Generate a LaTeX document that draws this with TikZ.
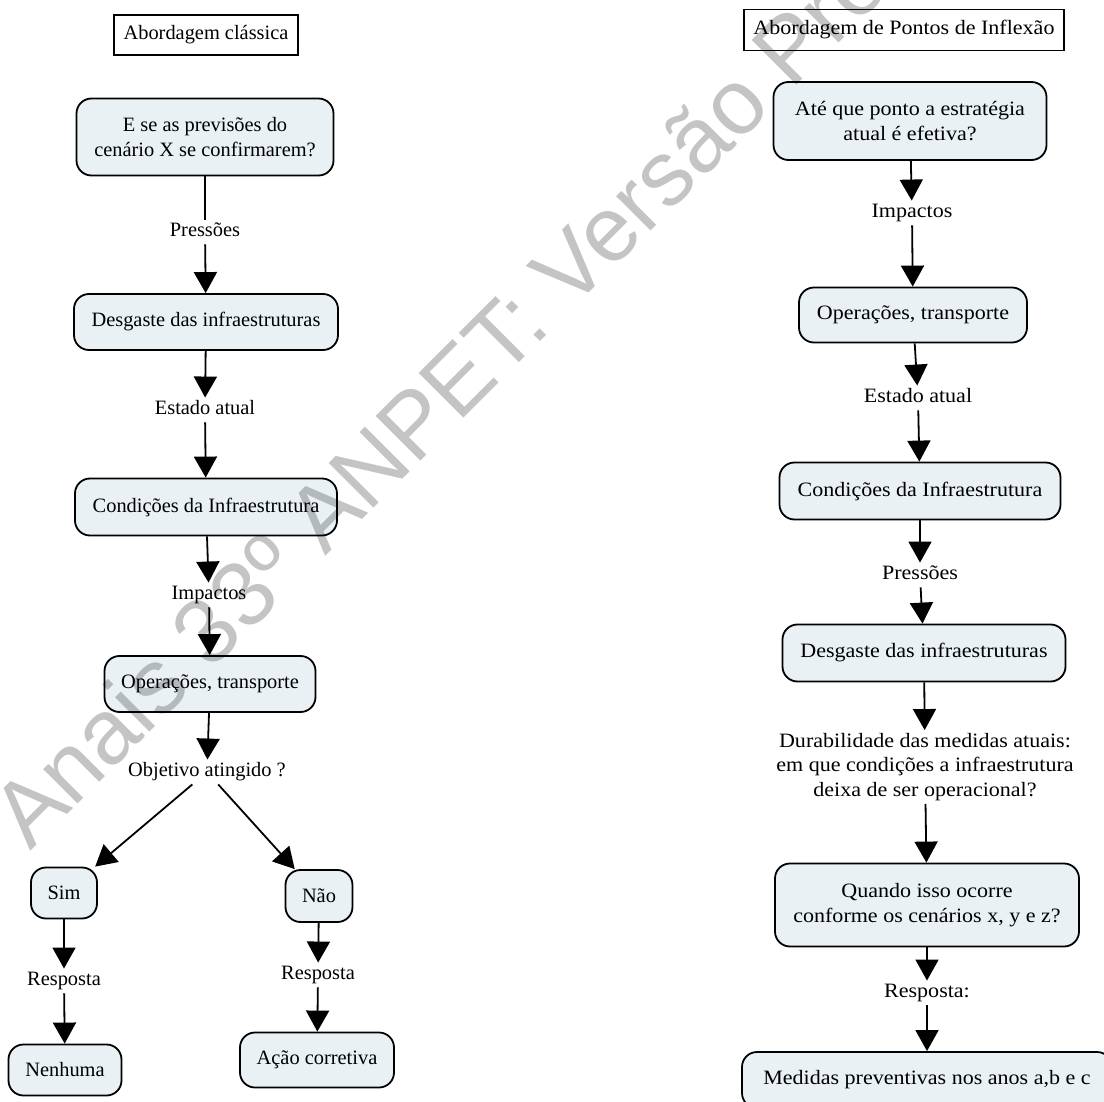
\documentclass[tikz,border=0pt]{standalone}
\usepackage{fontspec}
\setmainfont{Liberation Serif}
\newfontfamily\widefont[FakeStretch=1.08]{Liberation Serif}
\newfontfamily\wmfont{Liberation Sans}
\usetikzlibrary{arrows.meta}
\definecolor{boxfill}{HTML}{EAF1F5}
\definecolor{wmgray}{HTML}{C4C4C4}

\begin{document}
\begin{tikzpicture}[
  x=1pt, y=-1pt,
  every node/.style = {font=\fontsize{20.4}{24.5}\selectfont},
  box/.style   = {rectangle, rounded corners=15pt, draw, line width=1.8pt, fill=boxfill,
                  align=center, inner sep=0pt},
  title/.style = {rectangle, draw, line width=1.4pt, fill=white, inner sep=0pt},
  lbl/.style   = {inner sep=3pt, text height=14pt, text depth=4.5pt},
  link/.style  = {line width=1.8pt},
  arrow/.style = {link, -{Triangle[length=21pt, width=23pt]}},
  wmark/.style = {text=wmgray, inner sep=0pt, font=\wmfont\fontsize{92}{92}\selectfont},
]
  \useasboundingbox (0,0) rectangle (1104,1102);

  % classical approach
  \node[title, minimum width=184pt, minimum height=40pt] (tit1) at (206,35) {Abordagem clássica};
  \node[box, minimum width=257pt, minimum height=77pt] (q1)   at (205,137) {E se as previsões do\\cenário X se confirmarem?};
  \node[lbl] (pres1) at (205,232) {Pressões};
  \node[box, minimum width=264pt, minimum height=56pt] (des1) at (206,322) {Desgaste das infraestruturas};
  \node[lbl] (est1)  at (205,410) {Estado atual};
  \node[box, minimum width=262pt, minimum height=57pt] (con1) at (206,507) {Condições da Infraestrutura};
  \node[lbl] (imp1)  at (209,595) {Impactos};
  \node[box, minimum width=211pt, minimum height=56pt] (ope1) at (210,684) {Operações, transporte};
  \node[lbl] (obj)   at (207,772) {Objetivo atingido ?};
  \node[box, minimum width=66pt, minimum height=51pt]  (sim)  at (64,893)  {Sim};
  \node[box, minimum width=67pt, minimum height=52pt]  (nao)  at (319,896) {Não};
  \node[lbl] (resp1) at (64,981)  {Resposta};
  \node[lbl] (resp2) at (318,975) {Resposta};
  \node[box, minimum width=113pt, minimum height=51pt] (nenh) at (65,1070) {Nenhuma};
  \node[box, minimum width=154pt, minimum height=55pt] (acao) at (317,1060) {Ação corretiva};

  % tipping point approach
  \begin{scope}[every node/.append style={font=\widefont\fontsize{20.4}{24.5}\selectfont}]
  \node[title, minimum width=320pt, minimum height=41pt] (tit2) at (904,30) {Abordagem de Pontos de Inflexão};
  \node[box, minimum width=273pt, minimum height=78pt] (q2)   at (910,121) {Até que ponto a estratégia\\atual é efetiva?};
  \node[lbl] (imp2)  at (912,213) {Impactos};
  \node[box, minimum width=228pt, minimum height=55pt] (ope2) at (913,315) {Operações, transporte};
  \node[lbl] (est2)  at (918,398) {Estado atual};
  \node[box, minimum width=281pt, minimum height=57pt] (con2) at (920,491) {Condições da Infraestrutura};
  \node[lbl] (pres2) at (920,575) {Pressões};
  \node[box, minimum width=283pt, minimum height=57pt] (des2) at (924,653) {Desgaste das infraestruturas};
  \node[align=center, inner sep=3pt] (dur) at (925,767)
    {Durabilidade das medidas atuais:\\em que condições a infraestrutura\\deixa de ser operacional?};
  \node[box, minimum width=304pt, minimum height=83pt] (quando) at (927,905) {Quando isso ocorre\\conforme os cenários x, y e z?};
  \node[lbl] (resp3) at (927,993) {Resposta:};
  \node[box, minimum width=370pt, minimum height=56pt] (medidas) at (927,1080) {Medidas preventivas nos anos a,b e c};
  \end{scope}

  \draw[link]  (q1)    -- (pres1);
  \draw[arrow] (pres1) -- (des1);
  \draw[arrow] (des1)  -- (est1);
  \draw[arrow] (est1)  -- (con1);
  \draw[arrow] (con1)  -- (imp1);
  \draw[arrow] (imp1)  -- (ope1);
  \draw[arrow] (ope1)  -- (obj);
  \draw[arrow] (obj)   -- (sim);
  \draw[arrow] (obj)   -- (nao);
  \draw[arrow] (sim)   -- (resp1);
  \draw[arrow] (resp1) -- (nenh);
  \draw[arrow] (nao)   -- (resp2);
  \draw[arrow] (resp2) -- (acao);

  \draw[arrow] (q2)     -- (imp2);
  \draw[arrow] (imp2)   -- (ope2);
  \draw[arrow] (ope2)   -- (est2);
  \draw[arrow] (est2)   -- (con2);
  \draw[arrow] (con2)   -- (pres2);
  \draw[arrow] (pres2)  -- (des2);
  \draw[arrow] (des2)   -- (dur);
  \draw[arrow] (dur)    -- (quando);
  \draw[arrow] (quando) -- (resp3);
  \draw[arrow] (resp3)  -- (medidas);

  % watermark
  \begin{scope}[blend mode=multiply]
    \node[wmark, rotate=45, anchor=base west] (wm) at (30,852) {Anais 33º ANPET: Versão Preliminar};
  \end{scope}
\end{tikzpicture}
\end{document}
